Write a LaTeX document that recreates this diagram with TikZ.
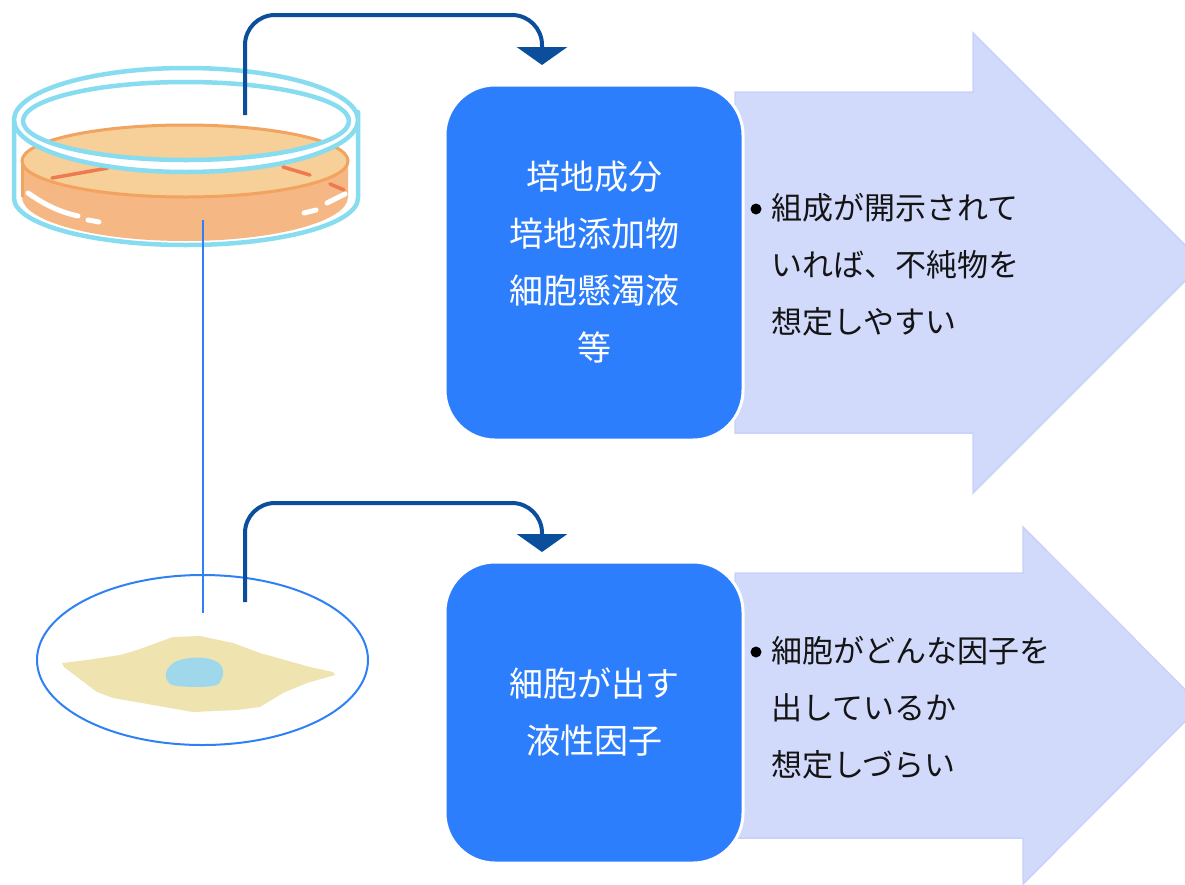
\documentclass[tikz,border=0pt]{standalone}
\usepackage{fontspec}
\setmainfont{Noto Sans CJK JP}
\usetikzlibrary{arrows.meta}

\definecolor{boxblue}{HTML}{2D7EFC}
\definecolor{arrowfill}{HTML}{D2DAFC}
\definecolor{arrowedge}{HTML}{C8D2FA}
\definecolor{connblue}{HTML}{0B4F9C}
\definecolor{lineblue}{HTML}{2F80F5}
\definecolor{glass}{HTML}{88DCF0}
\definecolor{mediumtop}{HTML}{F7CF98}
\definecolor{mediumside}{HTML}{F5B783}
\definecolor{mediumedge}{HTML}{F2A35F}
\definecolor{mediumdash}{HTML}{EE7A50}
\definecolor{cellbody}{HTML}{EFE3B0}
\definecolor{nucleus}{HTML}{9FD8EA}

\begin{document}
\begin{tikzpicture}[x=1pt,y=-1pt,
  box/.style={fill=boxblue, draw=white, line width=3pt, rounded corners=50pt,
    text=white, align=center, font=\fontsize{34pt}{57pt}\selectfont,
    minimum width=298pt, inner sep=0pt},
  note/.style={anchor=west, align=left, text=black!92, inner sep=0pt,
    font=\fontsize{31pt}{57pt}\selectfont},
  bigarrow/.style={fill=arrowfill, draw=arrowedge, line width=1.5pt},
  conn/.style={draw=connblue, line width=4pt, rounded corners=30pt,
    -{Triangle[width=50pt,length=18pt]}},
  link/.style={draw=lineblue, line width=2pt},
  glassline/.style={draw=glass, line width=4.5pt, line cap=round, line join=round},
  whitedash/.style={draw=white, line width=5pt, line cap=round},
  reddash/.style={draw=mediumdash, line width=3.5pt, line cap=round}]

\useasboundingbox (0,0) rectangle (1185,884);
\clip (0,0) rectangle (1185,884);

% ---------- big pale arrows ----------
\fill[bigarrow] (735,92) -- (973,92) -- (973,33) -- (1203,263) -- (973,493)
  -- (973,433) -- (735,433) -- cycle;
\fill[bigarrow] (735,573) -- (1023,573) -- (1023,527) -- (1201,705.5)
  -- (1023,884) -- (1023,838) -- (735,838) -- cycle;

% ---------- blue boxes ----------
\node[box, minimum height=355pt] (box1) at (594,262.5)
  {培地成分\\培地添加物\\細胞懸濁液\\等};
\node[box, minimum height=301pt] (box2) at (594,712.5)
  {細胞が出す\\液性因子};

% ---------- notes ----------
\fill[black] (756,209) circle[radius=5.5];
\node[note] (note1) at (771,265) {組成が開示されて\\いれば、不純物を\\想定しやすい};
\fill[black] (756,652) circle[radius=5.5];
\node[note] (note2) at (771,708) {細胞がどんな因子を\\出しているか\\想定しづらい};

% ---------- petri dish ----------
% glass bottom and walls
\draw[glassline] (14,118) -- (14,198)
  arc[start angle=180, end angle=0, x radius=172, y radius=47] -- (358,112);
% medium side band
\fill[mediumside] (22,161) -- (22,197)
  arc[start angle=180, end angle=0, x radius=163, y radius=44] -- (348,161) -- cycle;
\draw[mediumedge, line width=3pt] (22,161) -- (22,197);
% medium surface
\filldraw[fill=mediumtop, draw=mediumedge, line width=3pt] (185,161) ellipse[x radius=163, y radius=36];
% marks on the medium
\draw[reddash] (52,178) -- (108,168);
\draw[reddash] (283,167) -- (310,175);
\draw[reddash] (330,184) -- (344,190);
\draw[whitedash] (28,193) .. controls (45,205) and (60,212) .. (78,216);
\draw[whitedash] (88,220) -- (99,222);
\draw[whitedash] (304,213) -- (316,210);
\draw[whitedash] (327,203) -- (345,194);
% lid ring
\fill[white, even odd rule] (186,120) ellipse[x radius=172, y radius=52]
  (186,121) ellipse[x radius=163, y radius=39];
\draw[glassline] (186,120) ellipse[x radius=172, y radius=52];
\draw[glassline] (186,121) ellipse[x radius=163, y radius=39];

% ---------- cell in a plate ----------
\draw[draw=lineblue, line width=2pt] (202.5,660) ellipse[x radius=165.5, y radius=85];
\fill[cellbody] (62,663) -- (87,660) -- (120,655) -- (137,650) -- (173,637)
  -- (200,636) -- (233,643) -- (260,653) -- (310,667) -- (333,672)
  -- (335,675) -- (307,683) -- (283,693) -- (260,707) -- (237,710)
  -- (193,712) -- (153,705) -- (113,698) -- (97,692) -- (64,667) -- cycle;
\fill[nucleus] plot[smooth cycle, tension=0.6] coordinates
  {(167,670) (177,661) (197,657.5) (213,660) (222,667) (222,678)
   (213,686) (177,686) (167,680)};

% ---------- connectors ----------
\coordinate (dishside) at (203,220);
\coordinate (plate) at (203,613);
\draw[link] (dishside) -- (plate);

\coordinate (src1) at (245,115);
\coordinate (dst1) at (542,65);
\draw[conn] (src1) -- (245,15) -- (542,15) -- (dst1);

\coordinate (src2) at (245,602);
\coordinate (dst2) at (542,552);
\draw[conn] (src2) -- (245,503) -- (542,503) -- (dst2);

\end{tikzpicture}
\end{document}
